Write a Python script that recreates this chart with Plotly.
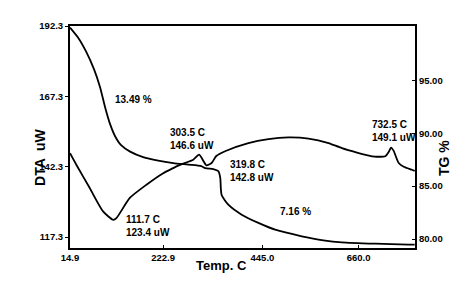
import plotly.graph_objects as go

# ---- data ----
tg_temp = [14.9, 32.8, 50.7, 68.7, 82.1, 93.3, 104.5, 115.7, 129.1, 149.3, 178.4,
           212.0, 245.6, 279.2, 308.3, 317.2, 335.2, 346.4, 350.8, 352.0, 353.8,
           368.8, 398.6, 436.0, 473.4, 533.0, 585.3, 622.5, 697.3, 771.9, 785.3]
tg_pct = [100.0, 99.06, 97.74, 96.04, 94.35, 92.46, 90.86, 89.72, 88.87, 88.26, 87.74,
          87.41, 87.18, 87.03, 86.89, 86.70, 86.61, 86.42, 85.76, 84.81, 84.16,
          83.24, 82.30, 81.52, 80.88, 80.26, 79.85, 79.69, 79.56, 79.47, 79.47]

dta_temp = [14.9, 29.0, 59.0, 88.8, 111.7, 118.6, 148.6, 185.8, 223.2, 245.6, 256.8,
            268.0, 290.4, 303.5, 319.8, 331.4, 341.9, 361.4, 413.6, 458.4, 503.2,
            548.0, 592.8, 622.5, 690.1, 719.7, 727.1, 732.5, 738.4, 742.8, 749.6,
            760.8, 779.3, 785.3]
dta_uw = [147.1, 143.0, 134.7, 126.4, 123.4, 124.0, 131.2, 135.9, 140.0, 141.8, 142.7,
          143.4, 144.8, 146.6, 142.8, 143.6, 146.1, 147.8, 150.7, 152.1, 152.7,
          152.3, 150.7, 148.9, 146.0, 146.0, 147.5, 149.1, 147.9, 146.1, 143.6,
          142.3, 141.2, 140.8]

peak_temp = [111.7, 303.5, 319.8, 732.5]
peak_uw = [123.4, 146.6, 142.8, 149.1]
peak_xshift = [11, -31, 22, -21]
peak_yshift = [-6, 16, -6, 17]

x_ticks = [14.9, 222.9, 445.0, 660.0]
x_ticktext = ["14.9", "222.9", "445.0", "660.0"]
dta_ticks = [117.3, 142.3, 167.3, 192.3]
dta_ticktext = ["117.3", "142.3", "167.3", "192.3"]
tg_ticks = [80, 85, 90, 95]
tg_ticktext = ["80.00", "85.00", "90.00", "95.00"]

loss_labels = ["13.49 %", "7.16 %"]
loss_temp = [156, 519]
loss_uw = [166.3, 126.5]

FONT = "Liberation Sans, Arial, sans-serif"

fig = go.Figure()
fig.add_trace(go.Scatter(x=dta_temp, y=dta_uw, mode="lines",
                         line=dict(color="black", width=1.8, shape="spline", smoothing=0.6),
                         yaxis="y", showlegend=False))
fig.add_trace(go.Scatter(x=tg_temp, y=tg_pct, mode="lines",
                         line=dict(color="black", width=1.8, shape="spline", smoothing=0.6),
                         yaxis="y2", showlegend=False))

ann = []
for t, u, xs, ys in zip(peak_temp, peak_uw, peak_xshift, peak_yshift):
    ann.append(dict(x=t, y=u, xref="x", yref="y", text=f"{t} C<br>{u} uW",
                    showarrow=False, xanchor="left", yanchor="middle", align="left",
                    xshift=xs, yshift=ys,
                    font=dict(family=FONT, size=10, color="black", weight="bold")))
for lab, t, u in zip(loss_labels, loss_temp, loss_uw):
    ann.append(dict(x=t, y=u, xref="x", yref="y", text=lab, showarrow=False,
                    font=dict(family=FONT, size=10, color="black", weight="bold")))
ann.append(dict(x=-0.116, y=0.41, xref="paper", yref="paper", text="DTA  uW",
                textangle=-90, showarrow=False,
                font=dict(family=FONT, size=14, color="black", weight="bold")))
ann.append(dict(x=1.113, y=0.405, xref="paper", yref="paper", text="TG %",
                textangle=-90, showarrow=False,
                font=dict(family=FONT, size=14, color="black", weight="bold")))
ann.append(dict(x=0.44, y=-0.12, xref="paper", yref="paper", text="Temp. C",
                showarrow=False,
                font=dict(family=FONT, size=13, color="black", weight="bold")))

tickfont = dict(family=FONT, size=9.5, color="black", weight="bold")

fig.update_layout(
    width=458, height=289,
    margin=dict(l=62, r=51, t=18, b=49),
    paper_bgcolor="white", plot_bgcolor="white",
    annotations=ann,
    xaxis=dict(range=[14.9, 786], tickvals=x_ticks, ticktext=x_ticktext,
               showgrid=False, zeroline=False, showline=True, linecolor="black",
               linewidth=2, mirror=True, ticks="inside", ticklen=3, tickcolor="black",
               tickfont=tickfont),
    yaxis=dict(range=[113.4, 192.3], tickvals=dta_ticks, ticktext=dta_ticktext,
               showgrid=False, zeroline=False, showline=True, linecolor="black",
               linewidth=2, mirror=True, ticks="outside", ticklen=3, tickcolor="black",
               tickfont=tickfont),
    yaxis2=dict(range=[79.15, 100.14], tickvals=tg_ticks, ticktext=tg_ticktext,
                overlaying="y", side="right",
                showgrid=False, zeroline=False, showline=True, linecolor="black",
                linewidth=2, ticks="inside", ticklen=3, tickcolor="black",
                tickfont=tickfont),
)

fig.write_html("out.html")
